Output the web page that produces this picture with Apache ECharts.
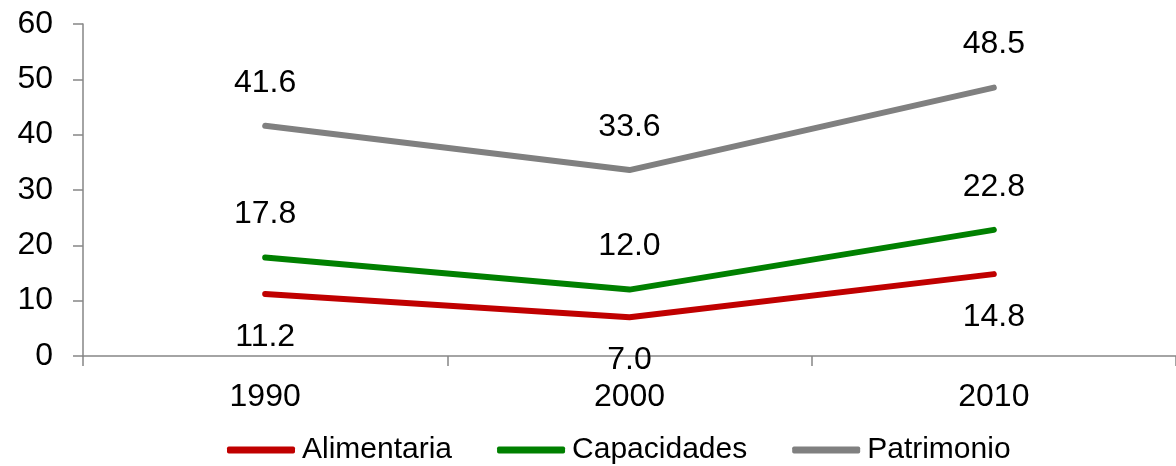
<!DOCTYPE html>
<html><head><meta charset="utf-8">
<script src="https://cdn.jsdelivr.net/npm/echarts@6/dist/echarts.min.js"></script>
<style>html,body{margin:0;padding:0;background:#fff}#c{width:1176px;height:466px}</style>
</head><body><div id="c"></div>
<script>
const categories = ['1990', '2000', '2010'];
const alimentaria = [11.2, 7.0, 14.8];
const capacidades = [17.8, 12.0, 22.8];
const patrimonio = [41.6, 33.6, 48.5];
const yTicks = [0, 10, 20, 30, 40, 50, 60];

const FONT = 'Liberation Sans, Arial, sans-serif';
function mk(name, data, color, pos) {
  return {
    name, type: 'line', data, symbol: 'circle', symbolSize: 2, showSymbol: true,
    lineStyle: { color, width: 6, cap: 'round', join: 'round' },
    itemStyle: { color, borderWidth: 0 },
    label: { show: true, position: pos, distance: 26, color: '#000', fontSize: 32, fontFamily: FONT,
      formatter: p => Number(p.value).toFixed(1) },
    z: name === 'Alimentaria' ? 3 : 2
  };
}
const chart = echarts.init(document.getElementById('c'), null, { renderer: 'canvas' });
chart.setOption({
  animation: false,
  grid: { left: 83, width: 1101, top: 24, bottom: 110, containLabel: false },
  xAxis: {
    type: 'category', data: categories, boundaryGap: true,
    axisLine: { lineStyle: { color: '#868686', width: 1.5 } },
    axisTick: { show: true, length: 10, lineStyle: { color: '#868686', width: 1.5 } },
    axisLabel: { color: '#000', fontSize: 32, fontFamily: FONT, margin: 25 }
  },
  yAxis: {
    type: 'value', min: yTicks[0], max: yTicks[yTicks.length - 1], interval: 10,
    axisLine: { show: true, lineStyle: { color: '#868686', width: 1.5 } },
    axisTick: { show: true, length: 10, lineStyle: { color: '#868686', width: 1.5 } },
    splitLine: { show: false },
    axisLabel: { color: '#000', fontSize: 32, fontFamily: FONT, margin: 30 }
  },
  legend: {
    left: 222, top: 430, itemWidth: 68, itemHeight: 7, itemGap: 45,
    icon: 'roundRect',
    textStyle: { color: '#000', fontSize: 30, fontFamily: FONT, padding: [0, 0, 0, 2] },
    data: ['Alimentaria', 'Capacidades', 'Patrimonio']
  },
  series: [
    mk('Alimentaria', alimentaria, '#C00000', 'bottom'),
    mk('Capacidades', capacidades, '#008000', 'top'),
    mk('Patrimonio', patrimonio, '#808080', 'top')
  ]
});
</script></body></html>
